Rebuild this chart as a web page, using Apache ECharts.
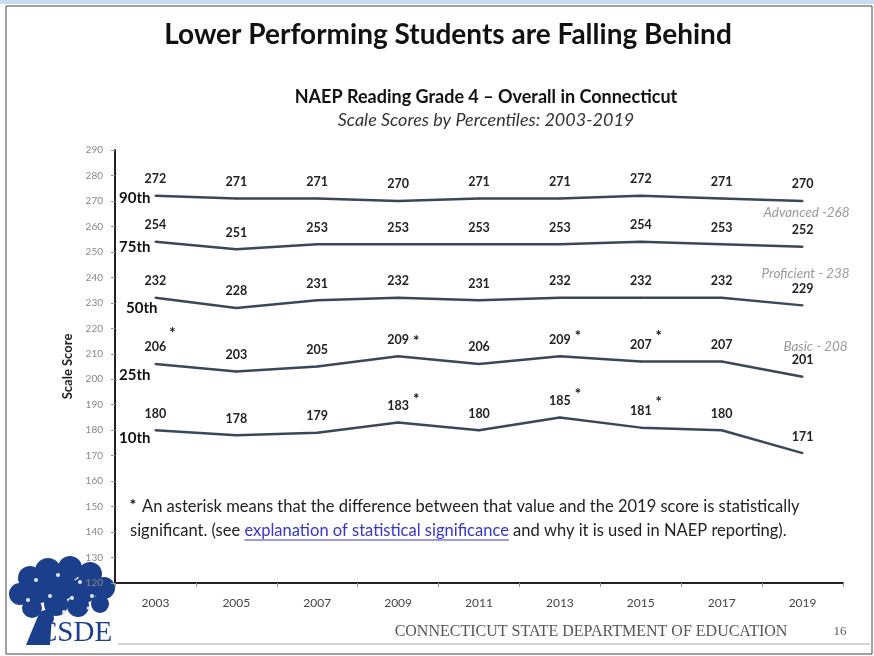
<!DOCTYPE html>
<html>
<head>
<meta charset="utf-8">
<script src="https://cdn.jsdelivr.net/npm/echarts@6/dist/echarts.min.js"></script>
<style>
html,body{margin:0;padding:0;background:#fff;}
#chart{width:874px;height:656px;}
</style>
</head>
<body>
<div id="chart"></div>
<script>
// ---- data ----
const years = ['2003','2005','2007','2009','2011','2013','2015','2017','2019'];
const seriesNames = ['90th','75th','50th','25th','10th'];
const p90 = [272,271,271,270,271,271,272,271,270];
const p75 = [254,251,253,253,253,253,254,253,252];
const p50 = [232,228,231,232,231,232,232,232,229];
const p25 = [206,203,205,209,206,209,207,207,201];
const p10 = [180,178,179,183,180,185,181,180,171];
const stars90 = [];
const stars75 = [];
const stars50 = [];
const stars25 = ['2003','2009','2013','2015'];
const stars10 = ['2009','2013','2015'];
const refNames = ['Advanced -268','Proficient - 238','Basic - 208'];
const refValues = [268,238,208];
const yMin = 120, yMax = 290, yStep = 10;

// ---- styles ----
const FONT = 'Lato, "Open Sans", sans-serif';
const LINE_COLOR = '#3b4759';
const nameOffsets = [[0,2],[0,5],[7,10],[0,11],[0,8]];
const starOffsets = [[], [], [], [[17,-31],[18,-15],[18,-20],[18,-25]], [[18,-23],[18,-23],[18,-25]]];
const refOffsets = [[47,7],[47,-9],[45,-12]];

const allData = [p90,p75,p50,p25,p10];
const allStars = [stars90,stars75,stars50,stars25,stars10];

const series = allData.map((d, i) => {
  const mp = [{
    coord: [years[0], d[0]],
    label: {show:true, formatter: seriesNames[i], position:'left', distance:5,
      offset: nameOffsets[i], fontSize:15, fontWeight:'bold', color:'#111', fontFamily: FONT}
  }];
  allStars[i].forEach((y, k) => {
    mp.push({
      coord: [y, d[years.indexOf(y)]],
      label: {show:true, formatter:'*', position: starOffsets[i][k], align:'center', verticalAlign:'middle',
        fontSize:15, fontWeight:'bold', color:'#111', fontFamily: FONT}
    });
  });
  if (i === allData.length - 1) {
    refNames.forEach((n, k) => {
      mp.push({
        coord: [years[years.length-1], refValues[k]],
        label: {show:true, formatter:n, position: refOffsets[k], align:'right', verticalAlign:'middle',
          fontSize:13.5, fontStyle:'italic', color:'#999', fontFamily: FONT}
      });
    });
  }
  return {
    type:'line', name: seriesNames[i], data: d,
    symbol:'circle', symbolSize:2, showSymbol:true,
    itemStyle:{color: LINE_COLOR},
    lineStyle:{color: LINE_COLOR, width:2.5},
    label:{show:true, position:'top', distance:9, fontSize:12.5, fontWeight:'bold', color:'#222', fontFamily: FONT},
    labelLayout:{hideOverlap:false},
    markPoint:{symbol:'circle', symbolSize:0, silent:true, itemStyle:{color:'transparent'}, data: mp},
    z: 3
  };
});

// ---- footnote measurement ----
const ctx = document.createElement('canvas').getContext('2d');
const NOTE_FONT = '16.5px ' + FONT;
ctx.font = NOTE_FONT;
const l2a = 'significant. (see ';
const l2b = 'explanation of statistical significance';
const l2c = ' and why it is used in NAEP reporting).';
const wA = ctx.measureText(l2a).width;
const wB = ctx.measureText(l2b).width;
const x2 = 130, y2 = 531;

// tree logo blobs
const blobs = [];
const canopy = [[30,578,12],[48,571,13],[70,568,12],[90,574,12],[104,588,11],[20,594,11],[40,590,13],[62,586,14],[84,590,13],[100,604,9],[32,608,10],[56,604,12],[78,606,11],[46,618,8]];
canopy.forEach(c => blobs.push({type:'circle', shape:{cx:c[0], cy:c[1], r:c[2]}, style:{fill:'#1c3f8c'}}));
const specks = [[36,580,2],[58,575,2],[80,582,2],[50,596,2],[72,598,2],[92,596,2],[28,600,2],[64,612,2],[88,608,1.5]];
specks.forEach(c => blobs.push({type:'circle', shape:{cx:c[0], cy:c[1], r:c[2]}, style:{fill:'#dfe6f5'}}));

const chart = echarts.init(document.getElementById('chart'), null, {renderer:'canvas'});
chart.setOption({
  animation:false,
  backgroundColor:'#fff',
  grid:{left:115, right:31, top:150, bottom:73, containLabel:false},
  xAxis:{
    type:'category', data: years, boundaryGap:true,
    axisLine:{lineStyle:{color:'#222', width:2}},
    axisTick:{show:true, length:4, lineStyle:{color:'#999'}},
    axisLabel:{color:'#444', fontSize:12, margin:14, fontFamily: FONT}
  },
  yAxis:{
    type:'value', min:yMin, max:yMax, interval:yStep,
    name:'Scale Score', nameLocation:'middle', nameGap:36,
    nameTextStyle:{fontSize:13, fontWeight:'bold', color:'#222', fontFamily: FONT},
    axisLine:{show:true, lineStyle:{color:'#222', width:2}},
    axisTick:{show:true, length:4, lineStyle:{color:'#999'}},
    axisLabel:{color:'#888', fontSize:10, margin:12, fontFamily: FONT},
    splitLine:{show:false}
  },
  series: series,
  graphic: [
    {type:'rect', shape:{x:0,y:0,width:874,height:4}, style:{fill:'#c8dcf2'}, silent:true},
    {type:'rect', shape:{x:6,y:6,width:866,height:648}, style:{fill:'none', stroke:'#444', lineWidth:1}, silent:true},
    {type:'text', x:448, y:35, style:{text:'Lower Performing Students are Falling Behind', font:'bold 28px ' + FONT, fill:'#111', align:'center', verticalAlign:'middle', textAlign:'center', textVerticalAlign:'middle'}},
    {type:'text', x:486, y:97, style:{text:'NAEP Reading Grade 4 \u2013 Overall in Connecticut', font:'bold 18px ' + FONT, fill:'#111', align:'center', verticalAlign:'middle', textAlign:'center', textVerticalAlign:'middle'}},
    {type:'text', x:486, y:120, style:{text:'Scale Scores by Percentiles: 2003-2019', font:'italic 18px ' + FONT, fill:'#333', align:'center', verticalAlign:'middle', textAlign:'center', textVerticalAlign:'middle'}},
    {type:'text', x:133, y:505, style:{text:'*', font:'bold 16px ' + FONT, fill:'#111', align:'center', verticalAlign:'middle', textAlign:'center', textVerticalAlign:'middle'}},
    {type:'text', x:142, y:507, style:{text:'An asterisk means that the difference between that value and the 2019 score is statistically', font: NOTE_FONT, fill:'#222', align:'left', verticalAlign:'middle', textAlign:'left', textVerticalAlign:'middle'}},
    {type:'text', x:x2, y:y2, style:{text:l2a, font: NOTE_FONT, fill:'#222', align:'left', verticalAlign:'middle', textAlign:'left', textVerticalAlign:'middle'}},
    {type:'text', x:x2+wA, y:y2, style:{text:l2b, font: NOTE_FONT, fill:'#3535d0', align:'left', verticalAlign:'middle', textAlign:'left', textVerticalAlign:'middle'}},
    {type:'line', shape:{x1:x2+wA, y1:y2+9, x2:x2+wA+wB, y2:y2+9}, style:{stroke:'#3535d0', lineWidth:1}},
    {type:'text', x:x2+wA+wB, y:y2, style:{text:l2c, font: NOTE_FONT, fill:'#222', align:'left', verticalAlign:'middle', textAlign:'left', textVerticalAlign:'middle'}},
    {type:'group', children: blobs},
    {type:'polygon', shape:{points:[[38,616],[52,616],[50,645],[26,645]]}, style:{fill:'#1c3f8c'}},
    {type:'text', x:38, y:633, style:{text:'CSDE', font:'29px "Liberation Serif", serif', fill:'#1c3f8c', align:'left', verticalAlign:'middle', textAlign:'left', textVerticalAlign:'middle'}},
    {type:'line', shape:{x1:118, y1:644, x2:870, y2:644}, style:{stroke:'#aaa', lineWidth:1}},
    {type:'text', x:591, y:632, style:{text:'CONNECTICUT STATE DEPARTMENT OF EDUCATION', font:'16px "Liberation Serif", serif', fill:'#555', align:'center', verticalAlign:'middle', textAlign:'center', textVerticalAlign:'middle'}},
    {type:'text', x:840, y:632, style:{text:'16', font:'13px "Liberation Serif", serif', fill:'#555', align:'center', verticalAlign:'middle', textAlign:'center', textVerticalAlign:'middle'}}
  ]
});
</script>
</body>
</html>
